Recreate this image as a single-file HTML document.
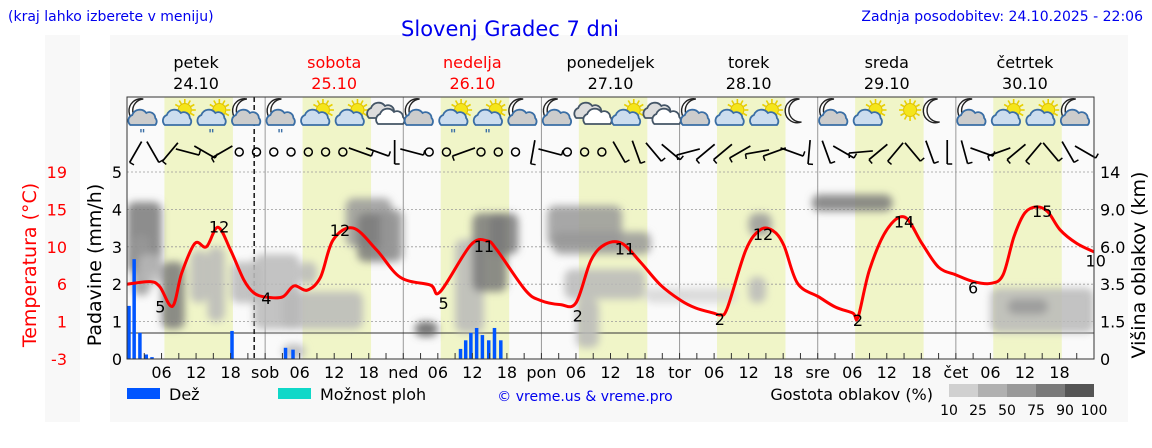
<!DOCTYPE html>
<html><head><meta charset="utf-8"><style>
body{margin:0;background:#fff;width:1152px;height:443px;overflow:hidden;font-family:"Liberation Sans","DejaVu Sans",sans-serif}
svg text{font-family:"DejaVu Sans","Liberation Sans",sans-serif}
</style></head><body>
<svg id="chart" width="1152" height="443" xmlns="http://www.w3.org/2000/svg">
<defs><filter id="blur" x="-30%" y="-30%" width="160%" height="160%"><feGaussianBlur stdDeviation="4"/></filter>
<clipPath id="plotclip"><rect x="127" y="97" width="967" height="262"/></clipPath></defs>
<rect x="45" y="35" width="35" height="387" fill="#f8f8f8"/>
<rect x="110" y="35" width="1018" height="387" fill="#f8f8f8"/>
<text x="8" y="21" font-size="14" fill="#0000ee">(kraj lahko izberete v meniju)</text>
<text x="510" y="36" font-size="21" fill="#0000ee" text-anchor="middle">Slovenj Gradec 7 dni</text>
<text x="1143" y="21" font-size="14" fill="#0000ee" text-anchor="end">Zadnja posodobitev: 24.10.2025 - 22:06</text>
<g id="days"></g>
<rect x="127" y="97" width="967" height="262" fill="#fafafa"/>
<g id="daylight"></g>
<g id="grid"></g>
<g id="clouds" clip-path="url(#plotclip)"><g id="cloudsInner" filter="url(#blur)"></g></g>
<g id="bars"></g>
<g id="icons"></g>
<g id="wind"></g>
<g id="temp"></g>
<g id="axes"></g>
<text transform="translate(36,265) rotate(-90)" font-size="19" fill="#ff0000" text-anchor="middle">Temperatura (°C)</text>
<text transform="translate(101,265) rotate(-90)" font-size="19" fill="#000" text-anchor="middle">Padavine (mm/h)</text>
<text transform="translate(1145,265) rotate(-90)" font-size="19" fill="#000" text-anchor="middle">Višina oblakov (km)</text>
<g>
<rect x="127" y="388" width="33" height="11" fill="#0055ff"/>
<text x="169" y="400" font-size="16">Dež</text>
<rect x="278" y="388" width="33" height="11" fill="#10d8c8"/>
<text x="320" y="400" font-size="16">Možnost ploh</text>
<text x="585" y="401" font-size="14" fill="#0000ee" text-anchor="middle">© vreme.us &amp; vreme.pro</text>
<text x="933" y="400" font-size="16" text-anchor="end">Gostota oblakov (%)</text>
<g id="cbar"></g>
</g>
</svg>
<script>
const dayNames=["petek","sobota","nedelja","ponedeljek","torek","sreda","četrtek"];
const dayDates=["24.10","25.10","26.10","27.10","28.10","29.10","30.10"];
const dayRed=[false,true,true,false,false,false,false];
const dayAbbr=["","sob","ned","pon","tor","sre","čet"];
const tempHours=[0,4,5.7,7.9,9.5,11.8,13.8,15.8,18,20.3,22,24,27,29,31.3,33.6,35.8,39.3,43.4,47.5,52.7,54.4,59.7,62.6,64.3,69.2,71.8,75.3,78,80.6,83.1,86,89.2,92.7,96.2,98.8,101.9,103.1,104.3,107.5,110,112.2,114.1,116.5,120.2,123.1,126.1,127,129,132,135.1,138.1,141,144,147.1,150.1,152.2,154.1,156,158.1,160,162.1,165,168];
const temps=[5.8,6.1,5.5,3.2,7.1,10.6,10.2,12.5,9.8,6.3,4.8,4.3,4.3,5.6,5.1,6.6,11.0,12.4,9.8,6.6,5.7,4.9,10.4,10.9,9.8,5.1,3.9,3.4,3.6,8.6,10.5,10.6,8.4,5.7,3.9,3.0,2.4,2.2,3.0,9.8,12.2,12.1,10.4,5.9,4.3,3.1,2.4,1.9,7.5,12.2,13.7,10.6,7.8,6.9,6.1,5.9,6.9,11.4,14.2,14.9,14.3,12.2,10.6,9.6];
const tempLabels=["5","12","4","12","5","11","2","11","2","12","2","14","6","15","10"];
const tempLabelHours=[5.8,16,24.2,37,55,62,78.3,86.5,103,110.5,127,135,147,159,168.3];
const tempLabelVals=[3.2,12.6,4.2,12.2,3.6,10.3,2.1,10.0,1.7,11.7,1.6,13.2,5.4,14.4,8.6];
const rainHours=[0.3,1.2,2.2,3.3,4.3,18.2,27.5,28.8,57.9,58.8,59.7,60.7,61.7,62.8,63.8,64.9];
const rainVals=[1.42,2.67,0.7,0.12,0.05,0.75,0.3,0.25,0.27,0.5,0.7,0.83,0.64,0.5,0.83,0.5];
const precipTicks=[0,1,2,3,4,5];
const tempTicks=["-3","1","6","10","15","19"];
const heightTicks=["0","1.5","3.5","6.0","9.0","14"];
const iconTypes=["mcr","sc","scr","mc","mcr","sc","sc","c","mc","scr","scr","mc","mc","c","sc","c","mc","sc","sc","m","mc","sc","s","m","mc","sc","sc","mc"];
const windDirs=[120,60,130,15,30,150,-1,-1,-1,-1,-1,-1,-1,20,20,90,15,-1,-1,160,-1,-1,-1,100,15,-1,-1,-1,60,70,50,40,165,140,140,150,170,160,20,95,70,30,175,140,130,50,70,90,75,20,160,140,130,50,60,30];
// cloud cells: start hour, end hour, low level, high level (precip-axis units), density %
const cloudH0=[0,1,6,11,14,18,22,27,30,38,40,44,50,57,60,63,73,76,74,90,96,119,150,153,108,108,2,27,78];
const cloudH1=[6,4,10,14,17,23,30,41,33,46,47,48,54,62,66,68,86,90,91,97,106,133,168,160,112,111,6,31,82];
const cloudLo=[2.3,1.7,0.8,1.5,1.0,1.5,0.8,0.8,2.0,3.0,2.6,2.6,0.6,0.7,1.8,2.8,3.0,1.6,2.8,1.5,1.5,3.95,0.7,1.2,3.3,1.5,2.0,0,0.3];
const cloudHi=[4.2,3.3,2.6,2.9,3.0,2.6,2.8,1.8,2.6,4.3,3.9,4.0,1.0,3.2,3.9,3.9,4.1,2.4,3.4,1.9,1.9,4.4,1.9,1.6,3.9,2.2,2.8,0.4,1.6];
const cloudDen=[80,70,85,40,45,30,35,40,25,60,75,70,90,45,75,80,70,30,55,20,20,75,40,55,50,45,25,30,25];

const X0=127,X1=1094,YB=359,YT=172;
const xH=h=>X0+h*(X1-X0)/168;
const yP=p=>YB-p*(YB-YT)/5;
const yT=t=>YB-(t+3)*(YB-YT)/22;
const NS="http://www.w3.org/2000/svg";
function mk(tag,attrs,parent,text){const e=document.createElementNS(NS,tag);for(const k in attrs)e.setAttribute(k,attrs[k]);if(text!==undefined)e.textContent=text;parent.appendChild(e);return e;}
const G=id=>document.getElementById(id);

dayNames.forEach((d,i)=>{const cx=xH(i*24+12);
 const t=mk('text',{x:cx,y:68,'font-size':16,'text-anchor':'middle',fill:dayRed[i]?'#ff0000':'#000'},G('days'),d);
 
 const t2=mk('text',{x:cx,y:89,'font-size':16,'text-anchor':'middle',fill:dayRed[i]?'#ff0000':'#000'},G('days'),dayDates[i]);
 
 const r=mk('rect',{x:xH(i*24+6.5),y:97,width:xH(i*24+18.4)-xH(i*24+6.5),height:262,fill:'#f0f5c8'},G('daylight'));
 
});
precipTicks.forEach(p=>{if(p===0)return;const l=mk('line',{x1:X0,x2:X1,y1:yP(p),y2:yP(p),stroke:'#999','stroke-dasharray':'2,2','stroke-width':0.8},G('grid'));
 });
for(let i=1;i<7;i++){const l=mk('line',{x1:xH(i*24),x2:xH(i*24),y1:97,y2:YB,stroke:'#999','stroke-width':1},G('grid'));
 }
const cshade=d=>d>=90?'#606060':d>=75?'#7a7a7a':d>=50?'#999':d>=25?'#b8b8b8':'#d6d6d6';
cloudH0.forEach((h,i)=>{const r=mk('rect',{x:xH(h),y:yP(cloudHi[i]),width:xH(cloudH1[i])-xH(h),height:yP(cloudLo[i])-yP(cloudHi[i]),rx:8,fill:cshade(cloudDen[i]),'fill-opacity':0.85},G('cloudsInner'));
 });
const hl=mk('line',{x1:X0,x2:X1,y1:333,y2:333,stroke:'#333','stroke-width':1},G('grid'));

rainHours.forEach((h,i)=>{const r=mk('rect',{x:xH(h)-1.5,y:yP(rainVals[i]),width:3.5,height:YB-yP(rainVals[i]),fill:'#0055ff'},G('bars'));
 });
const nl=mk('line',{x1:xH(22.1),x2:xH(22.1),y1:97,y2:YB,stroke:'#222','stroke-width':1.6,'stroke-dasharray':'5,3'},G('grid'));

function sun(g,x,y){for(let a=0;a<360;a+=30){const r=a*Math.PI/180;mk('line',{x1:x+Math.cos(r)*7,y1:y+Math.sin(r)*7,x2:x+Math.cos(r)*11,y2:y+Math.sin(r)*11,stroke:'#e8d000','stroke-width':1.6},g);}mk('circle',{cx:x,cy:y,r:6.5,fill:'#f5e51a',stroke:'#e0c000'},g);}
function moon(g,x,y){mk('path',{d:`M${x+3},${y-12} A12,12 0 1,0 ${x+5},${y+11} A10,10 0 1,1 ${x+3},${y-12}Z`,fill:'#fff',stroke:'#222','stroke-width':1.4},g);}
function cloud(g,x,y,fill,str){mk('path',{d:`M${x-12},${y+7} a6,6 0 0,1 2,-10 a8,8 0 0,1 14,-2 a6,6 0 0,1 9,5 a5,5 0 0,1 0,7 z`,fill:fill,stroke:str,'stroke-width':1.8},g);}
iconTypes.forEach((t,i)=>{const x=xH(3+6*i),y=114;const g=mk('g',{},G('icons'));
 
 if(t[0]==='s'){sun(g,x+6,y-4);} if(t[0]==='m'){moon(g,x-4,y-3);}
 if(t==='c'){cloud(g,x-5,y-3,'#ddd','#456');cloud(g,x+4,y+3,'#fff','#456');}
 else if(t.includes('c')){cloud(g,x-2,y+4,t[0]==='m'?'#ccc':'#cde','#3a6ea5');}
 if(t.endsWith('r')){mk('text',{x:x-2,y:y+24,'font-size':12,'font-weight':'bold',fill:'#3a6ea5','text-anchor':'middle'},g,'"');}
});
windDirs.forEach((d,i)=>{const x=xH(1.5+3*i),y=152;const g=mk('g',{},G('wind'));
 
 if(d<0){mk('circle',{cx:x,cy:y,r:4,fill:'none',stroke:'#000','stroke-width':1.5},g);return;}
 const r=d*Math.PI/180,dx=Math.cos(r)*12,dy=Math.sin(r)*12;
 mk('line',{x1:x-dx,y1:y-dy,x2:x+dx,y2:y+dy,stroke:'#000','stroke-width':1.7},g);
 mk('line',{x1:x+dx,y1:y+dy,x2:x+dx+Math.sin(r)*5,y2:y+dy-Math.cos(r)*5,stroke:'#000','stroke-width':1.5},g);
});
const pts=tempHours.map((h,i)=>[xH(h),yT(temps[i])]);
let d='M'+pts[0][0]+','+pts[0][1];
for(let i=1;i<pts.length;i++){const p0=pts[Math.max(0,i-2)],p1=pts[i-1],p2=pts[i],p3=pts[Math.min(pts.length-1,i+1)];
 const c1=[p1[0]+(p2[0]-p0[0])/6,p1[1]+(p2[1]-p0[1])/6],c2=[p2[0]-(p3[0]-p1[0])/6,p2[1]-(p3[1]-p1[1])/6];
 d+=` C${c1[0]},${c1[1]} ${c2[0]},${c2[1]} ${p2[0]},${p2[1]}`;}
const tl=mk('path',{d:d,fill:'none',stroke:'#ff0000','stroke-width':3},G('temp'));

tempLabels.forEach((s,i)=>{const t=mk('text',{x:xH(tempLabelHours[i]),y:yT(tempLabelVals[i])+6,'font-size':16,'text-anchor':'middle',fill:'#000'},G('temp'),s);
 });
const ax=G('axes');
mk('rect',{x:X0,y:97,width:X1-X0,height:YB-97,fill:'none',stroke:'#333','stroke-width':1},ax);
precipTicks.forEach((p,i)=>{
 const a=mk('text',{x:122,y:yP(p)+6,'font-size':16,'text-anchor':'end'},ax,String(p));
 const b=mk('text',{x:67,y:yP(p)+6,'font-size':16,'text-anchor':'end',fill:'#ff0000'},ax,tempTicks[i]);
 const c=mk('text',{x:1100,y:yP(p)+6,'font-size':16},ax,heightTicks[i]);
});
for(let h=3;h<168;h+=3){mk('line',{x1:xH(h),x2:xH(h),y1:YB,y2:YB-6,stroke:'#333'},ax);}
for(let i=0;i<7;i++){[6,12,18].forEach(hh=>{const t=mk('text',{x:xH(i*24+hh),y:378,'font-size':16,'text-anchor':'middle'},ax,String(hh).padStart(2,'0'));
 });
 if(i>0){const t=mk('text',{x:xH(i*24),y:378,'font-size':16,'text-anchor':'middle'},ax,dayAbbr[i]);}}
const cbLabels=["10","25","50","75","90","100"];
const cbColors=["#d0d0d0","#b0b0b0","#999","#7a7a7a","#555"];
cbColors.forEach((c,i)=>{const r=mk('rect',{x:949+i*29,y:384,width:29,height:13,fill:c},G('cbar'));});
cbLabels.forEach((s,i)=>{const t=mk('text',{x:949+i*29,y:415,'font-size':14,'text-anchor':'middle'},G('cbar'),s);});
</script>
</body></html>
